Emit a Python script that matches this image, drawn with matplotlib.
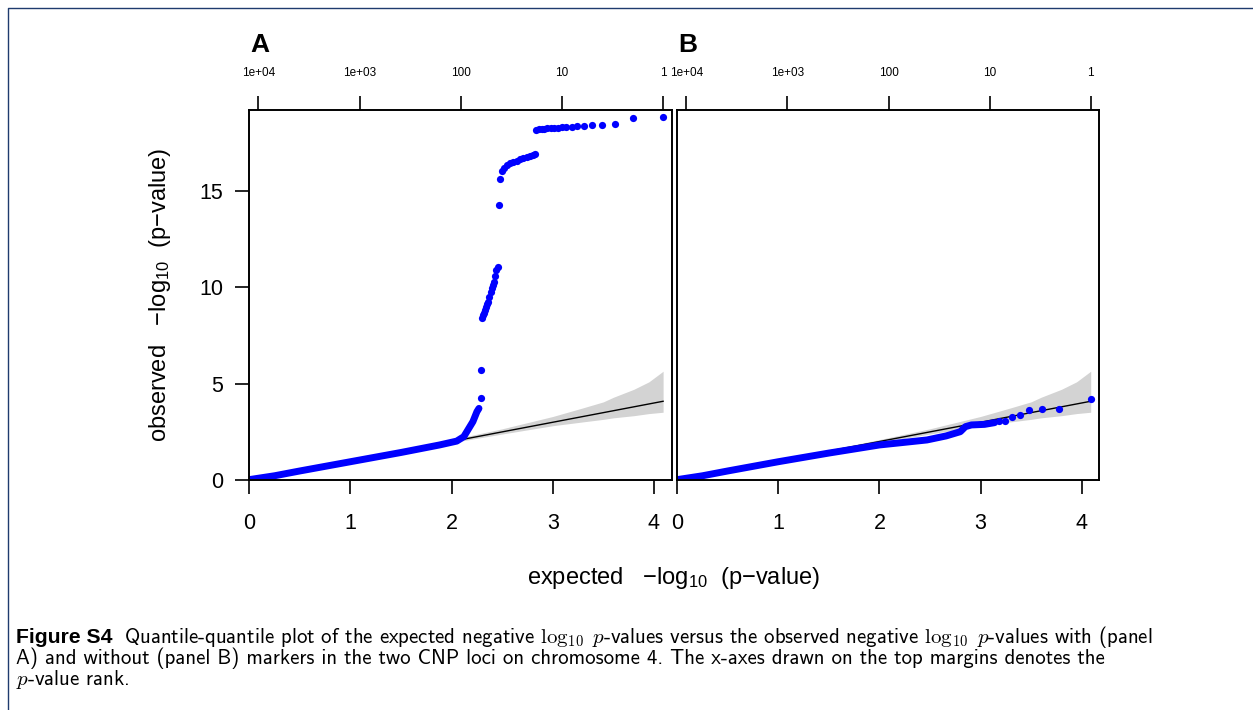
import numpy as np
import matplotlib.pyplot as plt
from matplotlib.lines import Line2D

plt.rcParams['font.family'] = ['Liberation Sans', 'DejaVu Sans']
plt.rcParams['mathtext.fontset'] = 'custom'
plt.rcParams['mathtext.rm'] = 'Liberation Sans'
plt.rcParams['mathtext.it'] = 'Liberation Sans:italic'
plt.rcParams['mathtext.bf'] = 'Liberation Sans:bold'

# ---- values ----
log10_n = 4.09                      # expected -log10 p of the top-ranked marker
rank_values = [1e4, 1e3, 100, 10, 1]
rank_labels = ['1e+04', '1e+03', '100', '10', '1']
x_ticks = [0, 1, 2, 3, 4]
y_ticks = [0, 5, 10, 15]

# 95% band around the y = x line
band_x  = [0.0, 0.5, 1.0, 1.5, 2.0, 2.5, 3.0, 3.3, 3.5, 3.6, 3.8, 3.95, 4.09]
band_hi = [0.0, 0.52, 1.04, 1.57, 2.10, 2.66, 3.30, 3.75, 4.06, 4.30, 4.71, 5.10, 5.65]
band_lo = [0.0, 0.49, 0.98, 1.47, 1.94, 2.39, 2.82, 3.02, 3.15, 3.23, 3.34, 3.45, 3.52]

# p = 1 ties at the origin (both panels)
tie_x = [0.0, 0.22]
tie_y = [0.0, 0.0]

# panel A, dense run of points (centre of the blue band)
a_dense_x = [0.0, 0.25, 0.5, 1.0, 1.5, 1.88, 2.05, 2.12, 2.18, 2.21, 2.25, 2.27]
a_dense_y = [0.02, 0.22, 0.47, 0.95, 1.43, 1.82, 2.02, 2.25, 2.77, 3.03, 3.55, 3.72]
# panel A, separate points
a_x = [2.29, 2.29,
       2.296, 2.31, 2.319, 2.33, 2.336, 2.346, 2.356, 2.369, 2.385, 2.395, 2.405, 2.418, 2.43, 2.438, 2.454,
       2.47, 2.477,
       2.494, 2.517, 2.543, 2.576, 2.609, 2.642, 2.675, 2.708, 2.741, 2.774, 2.807, 2.823,
       2.83, 2.86, 2.89, 2.91, 2.94, 2.98, 3.01, 3.05, 3.09, 3.13, 3.19, 3.24, 3.31, 3.39, 3.49, 3.61, 3.79, 4.09]
a_y = [4.24, 5.71,
       8.40, 8.55, 8.66, 8.85, 9.00, 9.12, 9.26, 9.52, 9.78, 9.95, 10.13, 10.30, 10.6, 10.91, 11.08,
       14.29, 15.62,
       16.05, 16.19, 16.36, 16.45, 16.54, 16.59, 16.66, 16.73, 16.80, 16.85, 16.90, 16.94,
       18.18, 18.21, 18.23, 18.25, 18.27, 18.28, 18.29, 18.30, 18.32, 18.34, 18.35, 18.37, 18.41, 18.42, 18.44, 18.48, 18.82, 18.87]

# panel B, dense run of points
b_dense_x = [0.0, 0.25, 0.5, 1.0, 1.5, 2.0, 2.47, 2.66, 2.80, 2.85, 2.91, 3.04, 3.14]
b_dense_y = [0.02, 0.22, 0.47, 0.95, 1.40, 1.82, 2.08, 2.29, 2.51, 2.77, 2.86, 2.89, 2.98]
# panel B, separate points
b_x = [3.185, 3.24, 3.31, 3.39, 3.48, 3.61, 3.78, 4.09]
b_y = [3.06, 3.06, 3.27, 3.39, 3.64, 3.70, 3.70, 4.21]

W, H = 1253, 710
fig = plt.figure(figsize=(W / 100, H / 100), dpi=100)

axA = fig.add_axes([249.3 / W, 1 - 480 / H, 422.4 / W, 370 / H])
axB = fig.add_axes([677.3 / W, 1 - 480 / H, 422.0 / W, 370 / H])

panels = [(axA, a_dense_x, a_dense_y, a_x, a_y, 'A'),
          (axB, b_dense_x, b_dense_y, b_x, b_y, 'B')]

for ax, dx, dy, px, py, letter in panels:
    ax.fill_between(band_x, band_lo, band_hi, color='#d3d3d3', lw=0)
    ax.plot([0, log10_n], [0, log10_n], color='black', lw=1.0)
    ax.plot(tie_x, tie_y, color='blue', lw=5, solid_capstyle='round')
    ax.plot(dx, dy, color='blue', lw=5, solid_capstyle='round', solid_joinstyle='round')
    ax.plot(px, py, 'o', color='blue', ms=5.2, mew=0)

    ax.set_xlim(0, 4.175)
    ax.set_ylim(0, 19.22)
    ax.set_xticks(x_ticks)
    for s in ax.spines.values():
        s.set_linewidth(1.2)
    ax.tick_params(axis='x', direction='out', length=10, width=1.2, labelsize=15.5, pad=14)
    ax.tick_params(axis='y', direction='out', length=10, width=1.2, labelsize=15.5, pad=9)

    top = ax.twiny()
    top.set_xlim(ax.get_xlim())
    top.set_xticks([log10_n - np.log10(r) for r in rank_values])
    top.set_xticklabels(rank_labels)
    top.tick_params(axis='x', direction='out', length=10, width=1.2, labelsize=8.5, pad=12)
    for s in top.spines.values():
        s.set_linewidth(1.2)

    x0 = ax.get_position().x0
    fig.text(x0 + 1 / W, 1 - 45 / H, letter, weight='bold', size=19, va='center', ha='left')

axA.set_yticks(y_ticks)
axB.set_yticks([])

fig.text(160 / W, 1 - 295 / H, r'observed   $-$log$_{10}$  (p$-$value)', rotation=90,
         size=17, ha='center', va='center')
fig.text(674 / W, 1 - 578 / H, r'expected   $-$log$_{10}$  (p$-$value)',
         size=17, ha='center', va='center')

# frame of the figure box
fig.add_artist(Line2D([7.5 / W, 7.5 / W, 1.0], [0.0, 1 - 7.5 / H, 1 - 7.5 / H],
                      transform=fig.transFigure, color='#1f3b6e', lw=1.0))

# caption
cap_size = 15
fig.text(16 / W, 1 - 643 / H, 'Figure S4', weight='bold', size=15.2,
         family=['Liberation Sans'], va='baseline')
fig.text(124 / W, 1 - 643 / H,
         r'Quantile-quantile plot of the expected negative $\log_{10}\ p$-values versus the observed '
         r'negative $\log_{10}\ p$-values with (panel',
         size=cap_size, family='cmss10', math_fontfamily='cm', va='baseline')
fig.text(16 / W, 1 - 664 / H,
         'A) and without (panel B) markers in the two CNP loci on chromosome 4. '
         'The x-axes drawn on the top margins denotes the',
         size=cap_size, family='cmss10', math_fontfamily='cm', va='baseline')
fig.text(16 / W, 1 - 685 / H, r'$p$-value rank.',
         size=cap_size, family='cmss10', math_fontfamily='cm', va='baseline')

fig.savefig('out.png', dpi=100)
